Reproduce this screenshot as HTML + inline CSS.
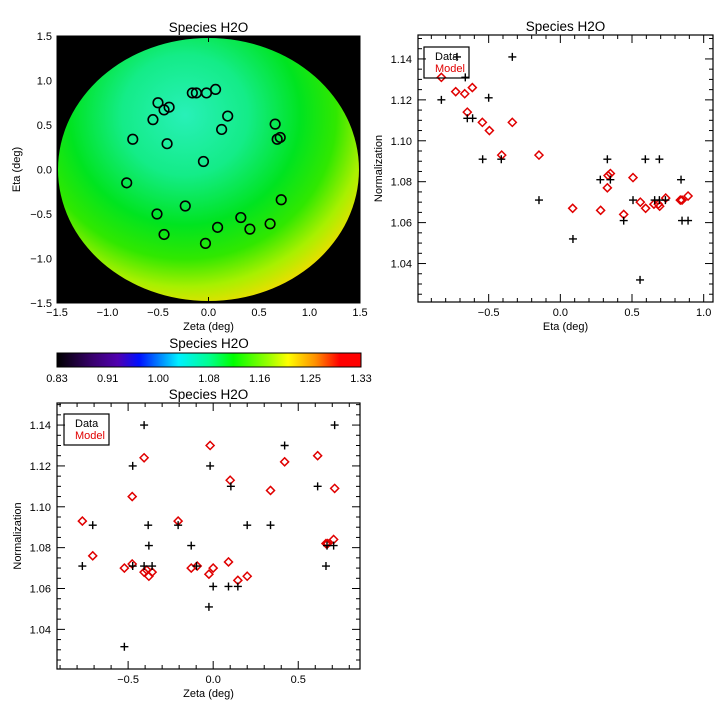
<!DOCTYPE html>
<html><head><meta charset="utf-8"><style>
html,body{margin:0;padding:0;background:#fff;}
svg{display:block;font-family:"Liberation Sans",sans-serif;}
text{font-size:11px;fill:#000;}
text.title{font-size:13.5px;}
</style></head><body>
<svg id="root" width="720" height="720" viewBox="0 0 720 720">
<defs>
<radialGradient id="mapgrad" cx="185" cy="115" r="200" gradientUnits="userSpaceOnUse" gradientTransform="translate(185 115) scale(1.05 1) translate(-185 -115)">
<stop offset="0" stop-color="#28f0b8"/>
<stop offset="0.3" stop-color="#14ec88"/>
<stop offset="0.55" stop-color="#00e420"/>
<stop offset="0.72" stop-color="#30e800"/>
<stop offset="0.86" stop-color="#a8f000"/>
<stop offset="1" stop-color="#ffd800"/>
</radialGradient>
<linearGradient id="cbgrad" x1="0" x2="1" y1="0" y2="0">
<stop offset="0" stop-color="#000000"/>
<stop offset="0.12" stop-color="#3a0070"/>
<stop offset="0.2" stop-color="#5000b0"/>
<stop offset="0.27" stop-color="#0010ff"/>
<stop offset="0.4" stop-color="#00f0ff"/>
<stop offset="0.5" stop-color="#00ff90"/>
<stop offset="0.58" stop-color="#00ff00"/>
<stop offset="0.7" stop-color="#a0ff00"/>
<stop offset="0.76" stop-color="#ffff00"/>
<stop offset="0.85" stop-color="#ff9000"/>
<stop offset="0.93" stop-color="#ff0000"/>
<stop offset="1" stop-color="#ff0000"/>
</linearGradient>
</defs>
<g id="map"></g>
<g id="cbar"></g>
<g id="eta"></g>
<g id="zeta"></g>
</svg>
<script>
// Map: source positions
const mapZeta = [-0.16,-0.12,-0.02,0.07,-0.50,-0.44,-0.39,-0.55,0.19,0.13,0.66,0.68,0.71,-0.75,-0.41,-0.05,-0.81,0.72,-0.23,-0.51,0.32,0.61,0.09,0.41,-0.44,-0.03];
const mapEta  = [0.86,0.86,0.86,0.90,0.75,0.67,0.70,0.56,0.60,0.45,0.51,0.34,0.36,0.34,0.29,0.09,-0.15,-0.34,-0.41,-0.50,-0.54,-0.61,-0.65,-0.67,-0.73,-0.83];
const mapTicks = [-1.5,-1.0,-0.5,0.0,0.5,1.0,1.5];
const cbLabels = ["0.83","0.91","1.00","1.08","1.16","1.25","1.33"];
// Eta scatter
const etaDataX = [-0.830,-0.663,-0.649,-0.612,-0.500,-0.542,-0.412,-0.335,-0.149,0.088,0.279,0.328,0.349,0.442,0.507,0.556,0.593,0.658,0.691,0.691,0.733,0.842,0.849,0.891,-0.721];
const etaDataY = [1.120,1.131,1.111,1.111,1.121,1.091,1.091,1.141,1.071,1.052,1.081,1.091,1.081,1.061,1.071,1.032,1.091,1.071,1.071,1.091,1.071,1.081,1.061,1.061,1.141];
const etaModelX = [-0.830,-0.730,-0.667,-0.614,-0.649,-0.544,-0.495,-0.409,-0.335,-0.149,0.086,0.281,0.328,0.333,0.349,0.442,0.507,0.558,0.595,0.653,0.684,0.693,0.735,0.837,0.849,0.891];
const etaModelY = [1.131,1.124,1.123,1.126,1.114,1.109,1.105,1.093,1.109,1.093,1.067,1.066,1.077,1.083,1.084,1.064,1.082,1.070,1.067,1.069,1.069,1.068,1.072,1.071,1.071,1.073];
const etaXTicks = [-0.5,0.0,0.5,1.0];
const normTicks = [1.04,1.06,1.08,1.10,1.12,1.14];
// Zeta scatter
const zetaDataX = [-0.769,-0.708,-0.522,-0.473,-0.473,-0.406,-0.406,-0.382,-0.378,-0.359,-0.206,-0.129,-0.098,-0.025,-0.018,0.0,0.090,0.104,0.145,0.200,0.337,0.420,0.614,0.663,0.669,0.708,0.714];
const zetaDataY = [1.071,1.091,1.0315,1.120,1.071,1.140,1.071,1.091,1.081,1.071,1.091,1.081,1.071,1.051,1.120,1.061,1.061,1.110,1.061,1.091,1.091,1.130,1.110,1.071,1.081,1.081,1.140];
const zetaModelX = [-0.769,-0.708,-0.522,-0.476,-0.476,-0.406,-0.406,-0.390,-0.378,-0.359,-0.206,-0.129,-0.094,-0.025,-0.018,0.0,0.090,0.100,0.145,0.200,0.337,0.420,0.614,0.663,0.673,0.708,0.714];
const zetaModelY = [1.093,1.076,1.070,1.072,1.105,1.124,1.068,1.069,1.066,1.068,1.093,1.070,1.071,1.067,1.130,1.070,1.073,1.113,1.064,1.066,1.108,1.122,1.125,1.082,1.082,1.084,1.109];
const zetaXTicks = [-0.5,0.0,0.5];

const NS="http://www.w3.org/2000/svg";
function mk(parent,tag,attrs,txt){const e=document.createElementNS(NS,tag);for(const k in attrs)e.setAttribute(k,attrs[k]);if(txt!==undefined)e.textContent=txt;parent.appendChild(e);return e;}
function fmt(v,d){let s=v.toFixed(d);return s.replace('-','\u2212');}

// ---------- Map ----------
(function(){
  const g=document.getElementById('map');
  const L=57,R=360,T=36,B=303;
  const sx=v=>L+(v+1.5)/3*(R-L), sy=v=>B-(v+1.5)/3*(B-T);
  const bg=mk(g,'rect',{x:L,y:T,width:R-L,height:B-T,fill:'#000'});
  
  
  const disk=mk(g,'ellipse',{cx:sx(0),cy:sy(0),rx:(sx(1.5)-sx(-1.5))/2-1,ry:(sy(-1.5)-sy(1.5))/2-2,fill:'url(#mapgrad)'});
  
  
  for(let i=0;i<mapZeta.length;i++){
    const c=mk(g,'circle',{cx:sx(mapZeta[i]),cy:sy(mapEta[i]),r:4.8,fill:'none',stroke:'#000','stroke-width':1.6});
    
    
  }
  mk(g,'rect',{x:L,y:T,width:R-L,height:B-T,fill:'none',stroke:'#000','stroke-width':1});
  mapTicks.forEach(t=>{
    const tx=mk(g,'text',{x:sx(t),y:B+13,'text-anchor':'middle'},fmt(t,1));
    
    
    const ty=mk(g,'text',{x:L-5,y:sy(t)+4,'text-anchor':'end'},fmt(t,1));
    
    
    mk(g,'line',{x1:sx(t),x2:sx(t),y1:B,y2:B-6,stroke:'#000'});
    mk(g,'line',{x1:sx(t),x2:sx(t),y1:T,y2:T+6,stroke:'#000'});
  });
  const ti=mk(g,'text',{x:(L+R)/2,y:T-4,'text-anchor':'middle','class':'title'},'Species H2O');
  
  const xt=mk(g,'text',{x:(L+R)/2,y:B+27,'text-anchor':'middle'},'Zeta (deg)');
  
  const yt=mk(g,'text',{x:0,y:0,'text-anchor':'middle',transform:`translate(20 ${(T+B)/2}) rotate(-90)`},'Eta (deg)');
  
})();

// ---------- Colorbar ----------
(function(){
  const g=document.getElementById('cbar');
  const L=57,R=361,T=353,B=367;
  const ti=mk(g,'text',{x:(L+R)/2,y:348,'text-anchor':'middle','class':'title'},'Species H2O');
  
  mk(g,'rect',{x:L,y:T,width:R-L,height:B-T,fill:'url(#cbgrad)',stroke:'#000','stroke-width':1});
  cbLabels.forEach((s,i)=>{
    const x=L+i*(R-L)/(cbLabels.length-1);
    const t=mk(g,'text',{x:x,y:382,'text-anchor':'middle'},s);
    
  });
})();

// ---------- Scatter helper ----------
function scatter(gid,o){
  const g=document.getElementById(gid);
  const {L,R,T,B,x0,x1,y0,y1}=o;
  const sx=v=>L+(v-x0)/(x1-x0)*(R-L), sy=v=>B-(v-y0)/(y1-y0)*(B-T);
  mk(g,'rect',{x:L,y:T,width:R-L,height:B-T,fill:'none',stroke:'#000','stroke-width':1.2});
  for(let v=Math.ceil(x0*10)/10; v<=x1+1e-9; v+=0.1){
    const vv=Math.round(v*10)/10; const maj=Math.abs(vv*2-Math.round(vv*2))<1e-6;
    const len=maj?8:4;
    mk(g,'line',{x1:sx(vv),x2:sx(vv),y1:B,y2:B-len,stroke:'#000'});
    mk(g,'line',{x1:sx(vv),x2:sx(vv),y1:T,y2:T+len,stroke:'#000'});
  }
  for(let k=Math.ceil(y0*200); k<=Math.floor(y1*200); k++){
    const vv=k/200; const maj=k%4===0; const len=maj?8:4;
    mk(g,'line',{x1:L,x2:L+len,y1:sy(vv),y2:sy(vv),stroke:'#000'});
    mk(g,'line',{x1:R,x2:R-len,y1:sy(vv),y2:sy(vv),stroke:'#000'});
  }
  o.xTicks.forEach(t=>{
    const tx=mk(g,'text',{x:sx(t),y:B+14,'text-anchor':'middle'},fmt(t,1));
    
  });
  normTicks.forEach(t=>{
    const ty=mk(g,'text',{x:L-6,y:sy(t)+4,'text-anchor':'end'},t.toFixed(2));
    
  });
  const ti=mk(g,'text',{x:(L+R)/2,y:T-4,'text-anchor':'middle','class':'title'},'Species H2O');
  
  const xt=mk(g,'text',{x:(L+R)/2,y:B+28,'text-anchor':'middle'},o.xTitle);
  
  const yt=mk(g,'text',{x:0,y:0,'text-anchor':'middle',transform:`translate(${o.yTitleX} ${(T+B)/2}) rotate(-90)`},'Normalization');
  
  for(let i=0;i<o.mx.length;i++){
    const x=sx(o.mx[i]),y=sy(o.my[i]);
    const d=mk(g,'path',{d:`M${x} ${y-4}L${x+4} ${y}L${x} ${y+4}L${x-4} ${y}Z`,fill:'none',stroke:'#e00000','stroke-width':1.5});
    
    
  }
  for(let i=0;i<o.dx.length;i++){
    const x=sx(o.dx[i]),y=sy(o.dy[i]);
    const p=mk(g,'path',{d:`M${x-4} ${y}H${x+4}M${x} ${y-4}V${y+4}`,stroke:'#000','stroke-width':1.4});
    
    
  }
  const lg=mk(g,'g',{});
  
  
  mk(lg,'rect',{x:o.lgx,y:o.lgy,width:45,height:31,fill:'none',stroke:'#000','stroke-width':1.2});
  const a=mk(lg,'text',{x:o.lgx+11,y:o.lgy+13},'Data');
  
  const b=mk(lg,'text',{x:o.lgx+11,y:o.lgy+25,style:'fill:#e00000'},'Model');
  
}
scatter('eta',{L:418,R:713,T:35,B:302,x0:-0.993,x1:1.065,y0:1.0212,y1:1.1517,xTicks:etaXTicks,xTitle:'Eta (deg)',yTitleX:382,dx:etaDataX,dy:etaDataY,mx:etaModelX,my:etaModelY,lgx:424,lgy:47});
scatter('zeta',{L:57,R:360,T:403,B:669,x0:-0.918,x1:0.863,y0:1.0206,y1:1.1508,xTicks:zetaXTicks,xTitle:'Zeta (deg)',yTitleX:21,dx:zetaDataX,dy:zetaDataY,mx:zetaModelX,my:zetaModelY,lgx:64,lgy:414});
</script>
</body></html>
